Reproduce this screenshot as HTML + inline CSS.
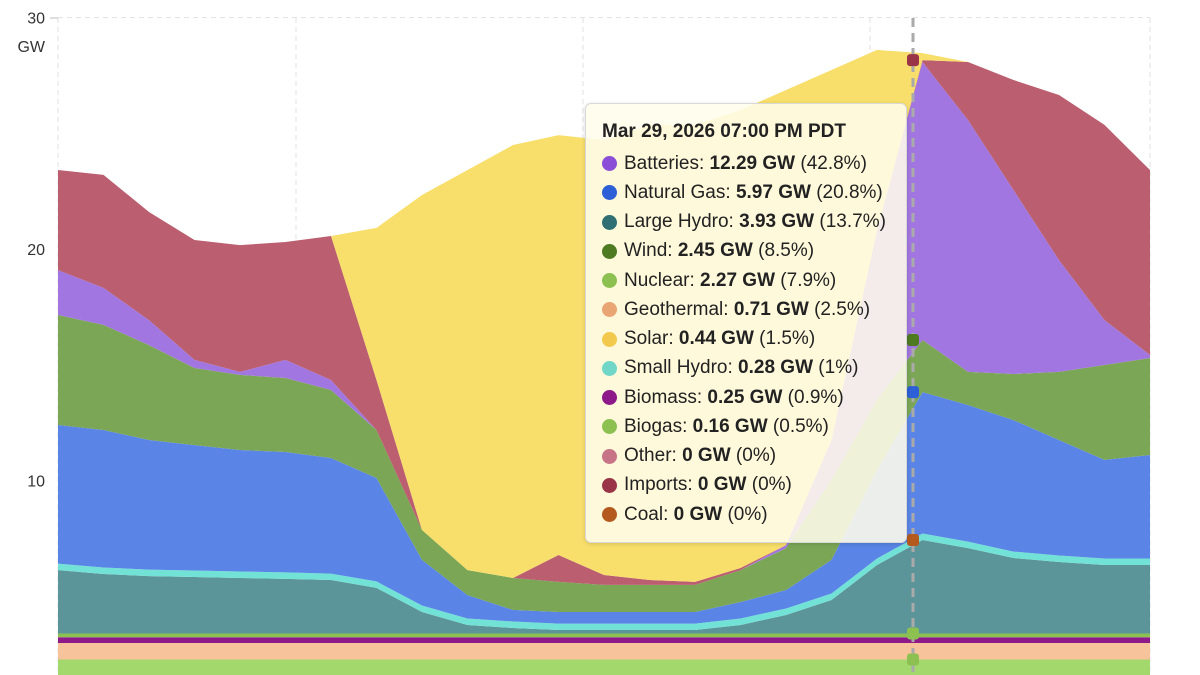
<!DOCTYPE html>
<html><head><meta charset="utf-8">
<style>
html,body{margin:0;width:1200px;height:675px;overflow:hidden;background:#fff;font-family:"Liberation Sans",sans-serif}
#tip{position:absolute;left:585px;top:103px;width:322px;height:440px;background:rgba(255,253,235,0.88);border:1px solid #d8d8d8;border-radius:6px;box-shadow:0 1px 4px rgba(0,0,0,0.15);font-size:19px;color:#222;box-sizing:border-box;padding:17px 0 0 16px;overflow:hidden}
#tip .t{font-weight:bold;margin-bottom:2px;height:26px}
#tip .r{height:29.25px;display:flex;align-items:center;white-space:nowrap}
#tip .d{width:15px;height:15px;border-radius:50%;margin-right:7px;flex:none}
</style></head><body>
<svg id="chart" width="1200" height="675" style="position:absolute;left:0;top:0"></svg>
<div id="tip">
<div class="t">Mar 29, 2026 07:00 PM PDT</div>
<div id="rows"></div>
</div>
<script>
const hours=[0,1,2,3,4,5,6,7,8,9,10,11,12,13,14,15,16,17,18,19,20,21,22,23,24];
const nuclear=[2.27,2.27,2.27,2.27,2.27,2.27,2.27,2.27,2.27,2.27,2.27,2.27,2.27,2.27,2.27,2.27,2.27,2.27,2.27,2.27,2.27,2.27,2.27,2.27,2.27];
const geothermal=[0.71,0.71,0.71,0.71,0.71,0.71,0.71,0.71,0.71,0.71,0.71,0.71,0.71,0.71,0.71,0.71,0.71,0.71,0.71,0.71,0.71,0.71,0.71,0.71,0.71];
const biomass=[0.25,0.25,0.25,0.25,0.25,0.25,0.25,0.25,0.25,0.25,0.25,0.25,0.25,0.25,0.25,0.25,0.25,0.25,0.25,0.25,0.25,0.25,0.25,0.25,0.25];
const biogas=[0.16,0.16,0.16,0.16,0.16,0.16,0.16,0.16,0.16,0.16,0.16,0.16,0.16,0.16,0.16,0.16,0.16,0.16,0.16,0.16,0.16,0.16,0.16,0.16,0.16];
const largeHydro=[2.74,2.57,2.48,2.44,2.40,2.36,2.31,1.97,0.93,0.37,0.24,0.15,0.15,0.15,0.15,0.37,0.80,1.45,2.96,4.04,3.69,3.26,3.09,2.96,2.96];
const smallHydro=[0.28,0.28,0.28,0.28,0.28,0.28,0.28,0.28,0.28,0.28,0.28,0.28,0.28,0.28,0.28,0.28,0.28,0.28,0.28,0.28,0.28,0.28,0.28,0.28,0.28];
const naturalGas=[5.99,5.94,5.60,5.42,5.25,5.20,4.99,4.47,1.97,1.01,0.50,0.50,0.50,0.50,0.50,0.71,0.80,1.45,3.82,6.11,5.90,5.68,4.99,4.26,4.47];
const wind=[4.75,4.54,4.10,3.33,3.24,3.20,2.94,2.07,1.29,1.08,1.38,1.30,1.17,1.17,1.17,1.38,1.81,3.45,3.03,2.25,1.43,1.99,2.94,4.10,4.19];
const batteries=[1.94,1.60,1.08,0.35,0.13,0.78,0.43,0,0,0,0,0,0,0,0,0,0.13,1.73,7.34,12.01,10.88,7.95,4.83,1.94,0.13];
const imports=[4.32,4.88,4.67,5.18,5.48,5.09,6.22,2.16,0,0,0,1.16,0.43,0.21,0.13,0.09,0,0,0,0.08,2.51,4.75,7.13,8.43,7.99];
const solar=[0,0,0,0,0,0,0,6.57,14.47,17.28,18.70,18.14,18.79,19.66,19.74,19.78,19.66,15.98,7.78,0.3,0,0,0,0,0];
const yTicks=[10,20,30];
const tipNames=["Batteries","Natural Gas","Large Hydro","Wind","Nuclear","Geothermal","Solar","Small Hydro","Biomass","Biogas","Other","Imports","Coal"];
const tipValues=["12.29 GW","5.97 GW","3.93 GW","2.45 GW","2.27 GW","0.71 GW","0.44 GW","0.28 GW","0.25 GW","0.16 GW","0 GW","0 GW","0 GW"];
const tipPct=["(42.8%)","(20.8%)","(13.7%)","(8.5%)","(7.9%)","(2.5%)","(1.5%)","(1%)","(0.9%)","(0.5%)","(0%)","(0%)","(0%)"];
const tipColors=["#8a4fd6","#2d5fd6","#2f6f73","#4e7a22","#8cc152","#eaa574","#f2c94c","#6fd6c8","#8e1a8a","#8cc152","#c77487","#9a3547","#b55a1f"];

const NS="http://www.w3.org/2000/svg";
const svg=document.getElementById('chart');
const x0=58,x1=1150;
const X=h=>x0+(h/24)*(x1-x0);
const Y=v=>712-v*23.15;
function mk(t,a){const e=document.createElementNS(NS,t);for(const k in a)e.setAttribute(k,a[k]);svg.appendChild(e);return e;}
[58,296,583,870,1150].forEach(gx=>{const l=mk('line',{x1:gx,x2:gx,y1:18,y2:675,stroke:'#e2e2e2','stroke-dasharray':'5,4'});

});
yTicks.forEach(t=>{const l=mk('line',{x1:58,x2:1150,y1:Y(t),y2:Y(t),stroke:'#e2e2e2','stroke-dasharray':'5,4'});


const tx=mk('text',{x:45,y:Y(t)+6,'text-anchor':'end','font-size':'16',fill:'#333'});tx.textContent=t;

});
const gw=mk('text',{x:45,y:52,'text-anchor':'end','font-size':'16',fill:'#333'});gw.textContent='GW';


mk('line',{x1:50,x2:58,y1:18,y2:18,stroke:'#bbb'});
const layers=[["nuclear",nuclear,"#a3d86c"],["geothermal",geothermal,"#f7c39b"],["biomass",biomass,"#8e1a8a"],["biogas",biogas,"#8cc152"],["large-hydro",largeHydro,"#5b9599"],["small-hydro",smallHydro,"#72e2d6"],["natural-gas",naturalGas,"#5a85e6"],["wind",wind,"#7aa655"],["batteries",batteries,"#a276e0"],["imports",imports,"#ba5e70"],["solar",solar,"#f8df6b"]];
let base=hours.map(()=>0);
const tops={};
layers.forEach(([n,arr,c])=>{
 const top=base.map((b,i)=>b+arr[i]);
 let d='M'+hours.map((h,i)=>X(h)+','+Y(top[i])).join('L');
 for(let i=hours.length-1;i>=0;i--)d+='L'+X(hours[i])+','+Y(base[i]);
 const p=mk('path',{d:d+'Z',fill:c});
 
 
 tops[n]=top;base=top;
});
const hx=913;
const hl=mk('line',{x1:hx,x2:hx,y1:18,y2:675,stroke:'#aaa','stroke-width':3,'stroke-dasharray':'9,6'});


const hi=19;
[["imports","#9a3547"],["large-hydro","#b55a1f"],["natural-gas","#2d5fd6"],["wind","#4e7a22"],["biogas","#8cc152"],["nuclear","#8cc152"]].forEach(([n,c])=>{
 const r=mk('rect',{x:hx-6,y:Y(tops[n][hi])-6,width:12,height:12,rx:3,fill:c});
 
 
});
const rows=document.getElementById('rows');
tipNames.forEach((n,i)=>{const r=document.createElement('div');r.className='r';


r.innerHTML='<span class="d" style="background:'+tipColors[i]+'"></span>'+n+':&nbsp;<b>'+tipValues[i]+'</b>&nbsp;'+tipPct[i];rows.appendChild(r);});
</script>
</body></html>
